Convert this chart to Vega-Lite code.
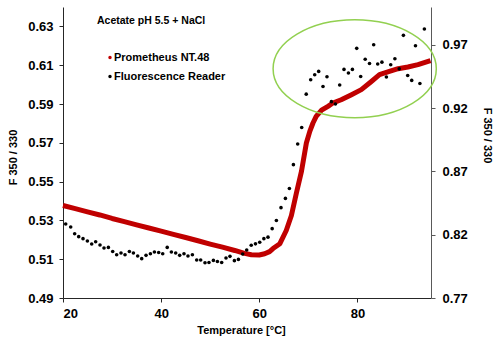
{
  "$schema": "https://vega.github.io/schema/vega-lite/v6.json",
  "autosize": "none",
  "width": 368,
  "height": 291,
  "padding": {"left": 63, "top": 7, "right": 69, "bottom": 47},
  "background": "white",
  "config": {
    "view": {"stroke": null},
    "font": "Liberation Sans",
    "axis": {"grid": false, "labelFont": "Liberation Sans", "labelFontWeight": "bold", "labelFontSize": 13, "labelColor": "#000000", "titleFont": "Liberation Sans", "titleFontWeight": "bold", "titleFontSize": 11, "titleColor": "#000000", "tickSize": 4, "labelPadding": 5}
  },
  "title": {"text": "Acetate pH 5.5 + NaCl", "anchor": "start", "frame": "group", "dx": 34, "dy": 23, "fontSize": 10.5, "fontWeight": "bold", "font": "Liberation Sans", "color": "#000000"},
  "datasets": {
    "prometheus": [
      {"T": 20, "V": 0.5377}, {"T": 22.5, "V": 0.5361}, {"T": 25, "V": 0.5344}, {"T": 27.5, "V": 0.5328}, {"T": 30, "V": 0.5310},
      {"T": 32.5, "V": 0.5294}, {"T": 35, "V": 0.5277}, {"T": 37.5, "V": 0.5261}, {"T": 40, "V": 0.5245}, {"T": 42.5, "V": 0.5228},
      {"T": 45, "V": 0.5212}, {"T": 47.5, "V": 0.5195}, {"T": 50, "V": 0.5178}, {"T": 52.5, "V": 0.5162}, {"T": 55, "V": 0.5145},
      {"T": 57, "V": 0.5130}, {"T": 58.4, "V": 0.5123}, {"T": 60, "V": 0.5122}, {"T": 61.1, "V": 0.5128}, {"T": 62.1, "V": 0.5139},
      {"T": 62.8, "V": 0.5155}, {"T": 64.2, "V": 0.5180}, {"T": 65.5, "V": 0.5248}, {"T": 66.55, "V": 0.5325}, {"T": 67.57, "V": 0.5441},
      {"T": 68.6, "V": 0.5553}, {"T": 69.6, "V": 0.5699}, {"T": 70.3, "V": 0.5759}, {"T": 70.95, "V": 0.5802}, {"T": 71.6, "V": 0.5836},
      {"T": 72.7, "V": 0.5868}, {"T": 74.0, "V": 0.5888}, {"T": 75.0, "V": 0.5905}, {"T": 76.7, "V": 0.5922}, {"T": 78.8, "V": 0.5948},
      {"T": 80.8, "V": 0.5974}, {"T": 82.85, "V": 0.6016}, {"T": 84.5, "V": 0.6051}, {"T": 86.2, "V": 0.6065}, {"T": 88.3, "V": 0.6082},
      {"T": 90.3, "V": 0.6091}, {"T": 92.35, "V": 0.6103}, {"T": 94.9, "V": 0.6124}
    ],
    "reader": [
      {"T": 20.55, "V": 0.8285}, {"T": 21.57, "V": 0.8261}, {"T": 22.38, "V": 0.8208}, {"T": 23.20, "V": 0.8185}, {"T": 24.08, "V": 0.8169},
      {"T": 24.97, "V": 0.8151}, {"T": 25.85, "V": 0.8127}, {"T": 26.66, "V": 0.8145}, {"T": 27.54, "V": 0.8119}, {"T": 28.36, "V": 0.8095},
      {"T": 29.25, "V": 0.8100}, {"T": 30.13, "V": 0.8068}, {"T": 30.94, "V": 0.8042}, {"T": 31.82, "V": 0.8056}, {"T": 32.64, "V": 0.8042},
      {"T": 33.53, "V": 0.8068}, {"T": 34.35, "V": 0.8056}, {"T": 35.22, "V": 0.8032}, {"T": 36.04, "V": 0.8011}, {"T": 36.92, "V": 0.8037},
      {"T": 37.81, "V": 0.8050}, {"T": 38.63, "V": 0.8064}, {"T": 39.50, "V": 0.8060}, {"T": 40.32, "V": 0.8050}, {"T": 41.24, "V": 0.8100},
      {"T": 42.09, "V": 0.8064}, {"T": 42.97, "V": 0.8056}, {"T": 43.78, "V": 0.8037}, {"T": 44.66, "V": 0.8050}, {"T": 45.47, "V": 0.8032},
      {"T": 46.37, "V": 0.8042}, {"T": 47.25, "V": 0.8000}, {"T": 48.06, "V": 0.8000}, {"T": 48.94, "V": 0.7979}, {"T": 49.75, "V": 0.7981},
      {"T": 50.65, "V": 0.7997}, {"T": 51.47, "V": 0.7989}, {"T": 52.34, "V": 0.7981}, {"T": 53.22, "V": 0.8016}, {"T": 54.03, "V": 0.8029},
      {"T": 54.93, "V": 0.7995}, {"T": 55.75, "V": 0.8005}, {"T": 56.62, "V": 0.8048}, {"T": 57.44, "V": 0.8079}, {"T": 58.36, "V": 0.8117},
      {"T": 59.23, "V": 0.8128}, {"T": 60.09, "V": 0.8141}, {"T": 60.94, "V": 0.8169}, {"T": 61.78, "V": 0.8181}, {"T": 62.63, "V": 0.8248},
      {"T": 63.49, "V": 0.8313}, {"T": 64.43, "V": 0.8414}, {"T": 65.33, "V": 0.8487}, {"T": 66.14, "V": 0.8566}, {"T": 66.96, "V": 0.8754},
      {"T": 67.83, "V": 0.8917}, {"T": 68.65, "V": 0.9048}, {"T": 69.57, "V": 0.9311}, {"T": 70.48, "V": 0.9425}, {"T": 71.30, "V": 0.9465},
      {"T": 72.11, "V": 0.9491}, {"T": 72.99, "V": 0.9372}, {"T": 73.80, "V": 0.9449}, {"T": 74.70, "V": 0.9252}, {"T": 75.52, "V": 0.9233},
      {"T": 76.39, "V": 0.9384}, {"T": 77.27, "V": 0.9507}, {"T": 78.17, "V": 0.9478}, {"T": 78.98, "V": 0.9507}, {"T": 79.86, "V": 0.9673},
      {"T": 80.67, "V": 0.9451}, {"T": 81.59, "V": 0.9587}, {"T": 82.47, "V": 0.9553}, {"T": 83.32, "V": 0.9702}, {"T": 84.14, "V": 0.9549},
      {"T": 85.00, "V": 0.9564}, {"T": 85.91, "V": 0.9447}, {"T": 86.79, "V": 0.9544}, {"T": 87.64, "V": 0.9591}, {"T": 88.52, "V": 0.9511},
      {"T": 89.38, "V": 0.9776}, {"T": 90.25, "V": 0.9459}, {"T": 91.07, "V": 0.9420}, {"T": 91.84, "V": 0.9694}, {"T": 92.74, "V": 0.9395},
      {"T": 93.65, "V": 0.9826}
    ],
    "highlight": [{"T": 79.45, "V": 0.6082}]
  },
  "encoding": {
    "x": {"field": "T", "type": "quantitative", "scale": {"domain": [20, 95], "nice": false, "zero": false},
      "axis": {"values": [20, 40, 60, 80], "title": "Temperature [°C]", "domainColor": "#262626", "tickColor": "#262626", "titleX": 178, "titleY": 32, "titleBaseline": "middle", "labelPadding": 5}}
  },
  "layer": [
    {
      "layer": [
        {
          "data": {"name": "prometheus"},
          "mark": {"type": "line", "color": "#c00000", "strokeWidth": 5, "strokeCap": "butt", "strokeJoin": "round"},
          "encoding": {
            "y": {"field": "V", "type": "quantitative", "scale": {"domain": [0.49, 0.64], "nice": false, "zero": false},
              "axis": {"values": [0.49, 0.51, 0.53, 0.55, 0.57, 0.59, 0.61, 0.63], "format": ".2f", "title": "F 350 / 330", "domainColor": "#262626", "tickColor": "#262626", "titleY": 150, "titleX": -50, "titleAlign": "center", "titleBaseline": "middle", "labelPadding": 6}}
          }
        },
        {
          "data": {"name": "highlight"},
          "mark": {"type": "point", "shape": "M -1 0 A 1 0.6 0 1 1 1 0 A 1 0.6 0 1 1 -1 0 Z", "filled": false, "stroke": "#92d050", "strokeWidth": 1.5, "size": 26634, "opacity": 1},
          "encoding": {"y": {"field": "V", "type": "quantitative"}}
        }
      ]
    },
    {
      "data": {"name": "reader"},
      "transform": [{"calculate": "'Fluorescence Reader'", "as": "series"}],
      "mark": {"type": "point", "filled": true, "size": 13, "opacity": 1},
      "encoding": {
        "y": {"field": "V", "type": "quantitative", "scale": {"domain": [0.77, 1.0], "nice": false, "zero": false},
          "axis": {"orient": "right", "values": [0.77, 0.82, 0.87, 0.92, 0.97], "format": ".2f", "title": "F 350 / 330", "domainColor": "#595959", "tickColor": "#595959", "titleY": 128, "titleX": 55, "titleAlign": "center", "titleBaseline": "middle", "labelPadding": 7}},
        "color": {"field": "series", "type": "nominal",
          "scale": {"domain": ["Prometheus NT.48", "Fluorescence Reader"], "range": ["#c00000", "#000000"]},
          "legend": {"orient": "none", "legendX": 41.5, "legendY": 45, "title": null, "symbolType": "circle", "symbolSize": 12, "labelFont": "Liberation Sans", "labelFontWeight": "bold", "labelFontSize": 11, "labelColor": "#000000", "labelOffset": -1.5, "rowPadding": 7, "padding": 0}}
      }
    }
  ],
  "resolve": {"scale": {"y": "independent"}}
}
